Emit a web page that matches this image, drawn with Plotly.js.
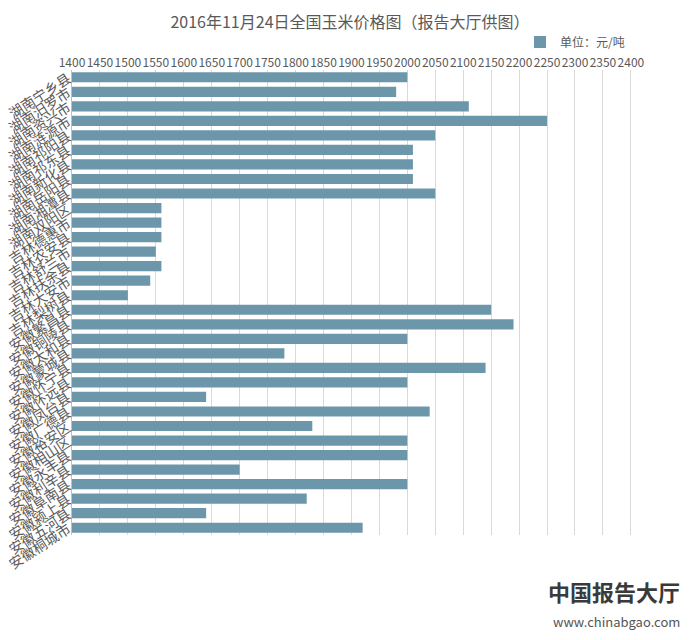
<!DOCTYPE html>
<html>
<head>
<meta charset="utf-8">
<script src="https://cdn.plot.ly/plotly-3.0.1.min.js"></script>
<style>html,body{margin:0;padding:0;background:#fff;}#chart{width:700px;height:640px;}</style>
</head>
<body>
<div id="chart"></div>
<script>
const categories = [
  "湖南宁乡县","湖南汨罗市","湖南资兴市","湖南涟源市","湖南祁阳县","湖南祁东县","湖南新化县","湖南岳阳县","湖南湘潭县","湖南双阳区",
  "吉林德惠市","吉林农安县","吉林舒兰市","吉林扶余县","吉林大安市","吉林梨树县",
  "安徽繁昌县","安徽铜陵县","安徽太和县","安徽蒙城县","安徽怀宁县","安徽怀远县","安徽凤台县","安徽广德县",
  "安徽裕安区","安徽相山区","安徽永丰县","安徽利辛县","安徽阜南县","安徽颍上县","安徽五河县","安徽桐城市"
];
const prices = [
  2000,1980,2110,2250,2050,2010,2010,2010,2050,1560,
  1560,1560,1550,1560,1540,1500,
  2150,2190,2000,1780,2140,2000,1640,2040,
  1830,2000,2000,1700,2000,1820,1640,1920
];
const seriesName = "单位：元/吨";
const chartTitle = "2016年11月24日全国玉米价格图（报告大厅供图）";
const xTicks = [];
for (let v = 1400; v <= 2400; v += 50) xTicks.push(v);

const font = "'Noto Sans CJK SC', 'Noto Sans', sans-serif";
const data = [{
  type: "bar",
  orientation: "h",
  y: categories,
  x: prices,
  base: 0,
  name: seriesName,
  marker: {color: "#6c97ab"},
  showlegend: true,
  hoverinfo: "x+y"
}];
const layout = {
  width: 700, height: 640,
  paper_bgcolor: "#fff", plot_bgcolor: "#fff",
  font: {family: font, color: "#595959"},
  margin: {l: 72, r: 68, t: 70, b: 105},
  title: {text: chartTitle, x: 0.5, xanchor: "center", y: 0.965, yanchor: "middle",
          font: {size: 16, color: "#595959", family: font}},
  bargap: 0.3,
  xaxis: {
    side: "top", range: [1400, 2402], tickvals: xTicks, ticktext: xTicks.map(String),
    tickangle: 0, showgrid: true, gridcolor: "#d9d9d9", gridwidth: 1,
    zeroline: false, showline: false, ticks: "",
    tickfont: {size: 12, color: "#595959", family: font}
  },
  yaxis: {
    type: "category", autorange: "reversed", tickangle: -33,
    tickmode: "array", tickvals: categories, ticktext: categories,
    showline: true, linecolor: "#bfbfbf", linewidth: 1, ticks: "",
    showgrid: false, tickfont: {size: 14, color: "#595959", family: font}
  },
  legend: {orientation: "h", x: 0.8, xanchor: "left", y: 1.06, yanchor: "middle",
           font: {size: 12, color: "#595959", family: font}, itemwidth: 30, tracegroupgap: 0},
  annotations: [
    {xref: "paper", yref: "paper", x: 1.09, y: -0.12, xanchor: "right", yanchor: "middle",
     text: "<b>中国报告大厅</b>", showarrow: false, font: {size: 22, color: "#3a3a3a", family: font}},
    {xref: "paper", yref: "paper", x: 1.09, y: -0.185, xanchor: "right", yanchor: "middle",
     text: "www.chinabgao.com", showarrow: false, font: {size: 13, color: "#555", family: font}}
  ]
};
Plotly.newPlot("chart", data, layout, {displayModeBar: false, staticPlot: true});
</script>
</body>
</html>
